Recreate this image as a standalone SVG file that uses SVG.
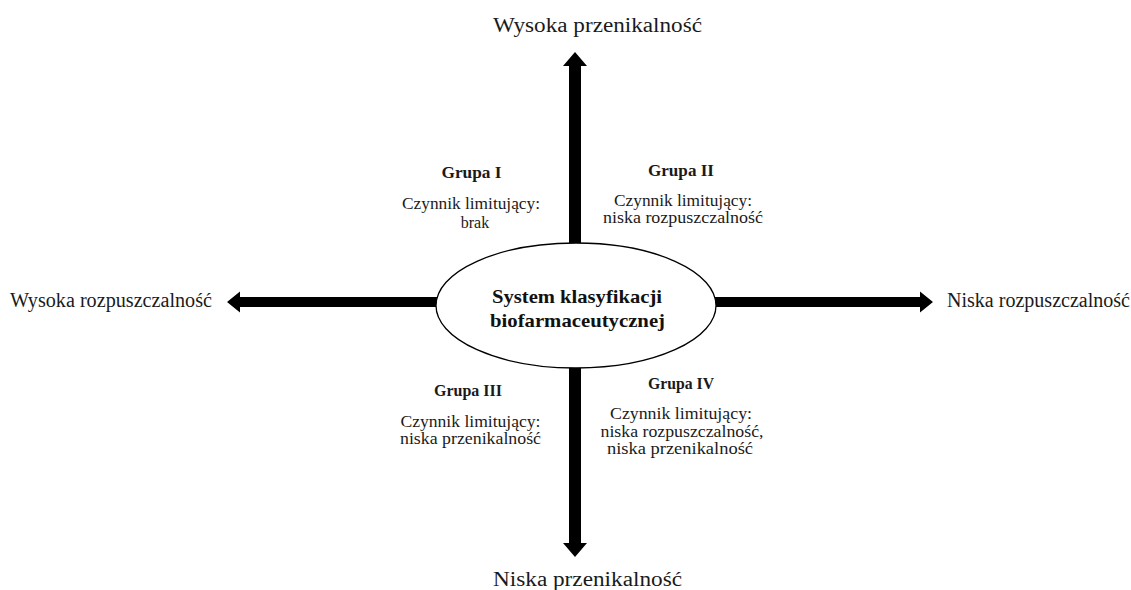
<svg xmlns="http://www.w3.org/2000/svg" width="1131" height="590" viewBox="0 0 1131 590">
<style>
  .axis { font-family: "Liberation Serif", "Times New Roman", serif; font-size: 20px; fill: #1a1a1a; }
  .grp { font-family: "Liberation Serif", "Times New Roman", serif; font-size: 16px; fill: #1a1a1a; text-anchor: middle; }
  .grp-title { font-weight: bold; font-size: 17px; }
  .center-t { font-family: "Liberation Serif", "Times New Roman", serif; font-size: 19px; font-weight: bold; fill: #111; text-anchor: middle; }
  .arrow { fill: #000; stroke: none; }
  .node { fill: #fff; stroke: #000; stroke-width: 1.3; }
</style>
<rect width="1131" height="590" fill="#fff"/>
<g id="connectors">
  <polygon class="arrow" points="569,244 569,66 563,66 575,52 587,66 581,66 581,244"/>
  <polygon class="arrow" points="569,367 569,543 563,543 575,557 587,543 581,543 581,367"/>
  <polygon class="arrow" points="437,297 240,297 240,291.5 227,302 240,312.5 240,307 437,307"/>
  <polygon class="arrow" points="715,297 920,297 920,291.5 933,302 920,312.5 920,307 715,307"/>
</g>
<g id="center">
  <ellipse class="node" cx="576" cy="305.5" rx="140" ry="62.5"/>
  <text class="center-t" x="577" y="303" textLength="170" lengthAdjust="spacingAndGlyphs">System klasyfikacji</text>
  <text class="center-t" x="577.5" y="327" textLength="175" lengthAdjust="spacingAndGlyphs">biofarmaceutycznej</text>
</g>
<g id="label-top">
  <text class="axis" x="493" y="32" textLength="209" lengthAdjust="spacingAndGlyphs">Wysoka przenikalność</text>
</g>
<g id="label-bottom">
  <text class="axis" x="493" y="586" textLength="189" lengthAdjust="spacingAndGlyphs">Niska przenikalność</text>
</g>
<g id="label-left">
  <text class="axis" x="10" y="307" textLength="202" lengthAdjust="spacingAndGlyphs">Wysoka rozpuszczalność</text>
</g>
<g id="label-right">
  <text class="axis" x="947" y="307" textLength="183" lengthAdjust="spacingAndGlyphs">Niska rozpuszczalność</text>
</g>
<g id="group-1">
  <text class="grp grp-title" x="471.5" y="178" textLength="60" lengthAdjust="spacingAndGlyphs">Grupa I</text>
  <text class="grp" x="471" y="208.5" textLength="138" lengthAdjust="spacingAndGlyphs">Czynnik limitujący:</text>
  <text class="grp" x="475" y="227.5">brak</text>
</g>
<g id="group-2">
  <text class="grp grp-title" x="681" y="176" textLength="66" lengthAdjust="spacingAndGlyphs">Grupa II</text>
  <text class="grp" x="683" y="205.5" textLength="138" lengthAdjust="spacingAndGlyphs">Czynnik limitujący:</text>
  <text class="grp" x="683" y="222.5" textLength="160" lengthAdjust="spacingAndGlyphs">niska rozpuszczalność</text>
</g>
<g id="group-3">
  <text class="grp grp-title" x="468" y="396" textLength="68" lengthAdjust="spacingAndGlyphs">Grupa III</text>
  <text class="grp" x="470.5" y="426.5" textLength="140" lengthAdjust="spacingAndGlyphs">Czynnik limitujący:</text>
  <text class="grp" x="470.5" y="443.5" textLength="141" lengthAdjust="spacingAndGlyphs">niska przenikalność</text>
</g>
<g id="group-4">
  <text class="grp grp-title" x="681" y="389" textLength="66" lengthAdjust="spacingAndGlyphs">Grupa IV</text>
  <text class="grp" x="681" y="419" textLength="142" lengthAdjust="spacingAndGlyphs">Czynnik  limitujący:</text>
  <text class="grp" x="682" y="436.5" textLength="163" lengthAdjust="spacingAndGlyphs">niska rozpuszczalność,</text>
  <text class="grp" x="680" y="454" textLength="146" lengthAdjust="spacingAndGlyphs">niska przenikalność</text>
</g>
</svg>
